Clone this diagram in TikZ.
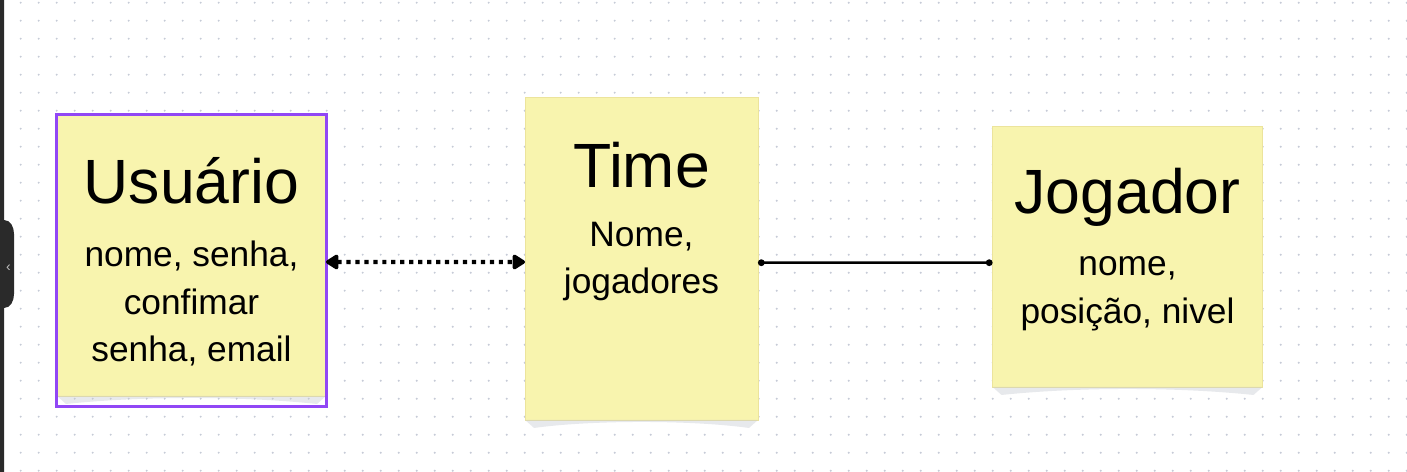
\documentclass[tikz,border=0pt]{standalone}
\usepackage{fontspec}
\setmainfont{Liberation Sans}
\usetikzlibrary{arrows.meta,calc}
\definecolor{notey}{HTML}{F8F4AE}
\definecolor{noteline}{HTML}{ECE49C}
\definecolor{foldc}{HTML}{C5C8D0}
\definecolor{dotc}{HTML}{C6CBD7}
\definecolor{selectc}{HTML}{9147F5}
\definecolor{sidebarc}{HTML}{2A2A2A}

\begin{document}
\begin{tikzpicture}[x=0.02cm, y=-0.02cm,
  note/.style={rectangle, fill=notey, draw=noteline, line width=0.4pt, inner sep=0pt, outer sep=0pt},
  notefold/.style={fill=foldc, fill opacity=0.4},
  notetitle/.style={font=\fontsize{35.6}{41}\selectfont, anchor=base},
  fields/.style={font=\fontsize{20.1}{27.2}\selectfont, align=center, anchor=base},
  dotlink/.style={line width=2.4pt, dash pattern=on 2.4pt off 2.7pt,
    {Triangle[round,length=8pt,width=9.5pt]}-{Triangle[round,length=8pt,width=9.5pt]}},
  solidlink/.style={line width=1.4pt, {Circle[length=3.8pt]}-{Circle[length=3.8pt]}}]
  \useasboundingbox (0,0) rectangle (1407,472);
  \fill[white] (0,0) rectangle (1407,472);
  % dot grid of the board
  \foreach \i in {0,...,78}
    \foreach \j in {0,...,26}
      \fill[dotc] (2.7+18*\i, 2.7+18*\j) circle (1.1);

  % sticky notes
  \node[note, minimum width=5.38cm, minimum height=5.62cm] (usuario) at (191.5,255.5) {};
  \node[note, minimum width=4.66cm, minimum height=6.46cm] (time) at (641.5,258.5) {};
  \node[note, minimum width=5.40cm, minimum height=5.22cm] (jogador) at (1127.5,256.5) {};
  \foreach \n in {usuario, time, jogador}
    \fill[notefold] (\n.south west) -- (\n.south east) -- ($(\n.south east)+(-9,8)$)
      .. controls ($(\n.south)+(50,0)$) and ($(\n.south)+(-50,0)$) .. ($(\n.south west)+(9,8)$) -- cycle;
  \draw[selectc, line width=1.3pt] ($(usuario.north west)+(-0.5,-0.5)$) rectangle ($(usuario.south east)+(0.5,10.5)$);

  \node[notetitle] (usuarioT) at (191.5,204) {Usuário};
  \node[fields] (usuarioF) at (191.5,362) {nome, senha,\\confimar\\senha, email};
  \node[notetitle] (timeT) at (641.5,188) {Time};
  \node[fields] (timeF) at (641.5,294) {Nome,\\jogadores};
  \node[notetitle] (jogadorT) at (1127.5,214) {Jogador};
  \node[fields] (jogadorF) at (1127.5,323.5) {nome,\\posição, nivel};

  % links
  \draw[dotlink] ([yshift=-0.13cm]usuario.east) -- ([yshift=-0.07cm]time.west);
  \draw[solidlink] ([yshift=-0.084cm]time.east) -- ([yshift=-0.124cm]jogador.west);

  % side panel toggle
  \fill[sidebarc] (0,0) -- (4,0) -- (4,220) to[out=0,in=90] (14,234) -- (14,294)
    to[out=-90,in=0] (4,308) -- (4,472) -- (0,472) -- cycle;
  \node[text=white!75!black, font=\fontsize{8}{9}\selectfont] (toggle) at (8.5,268) {‹};
\end{tikzpicture}
\end{document}
